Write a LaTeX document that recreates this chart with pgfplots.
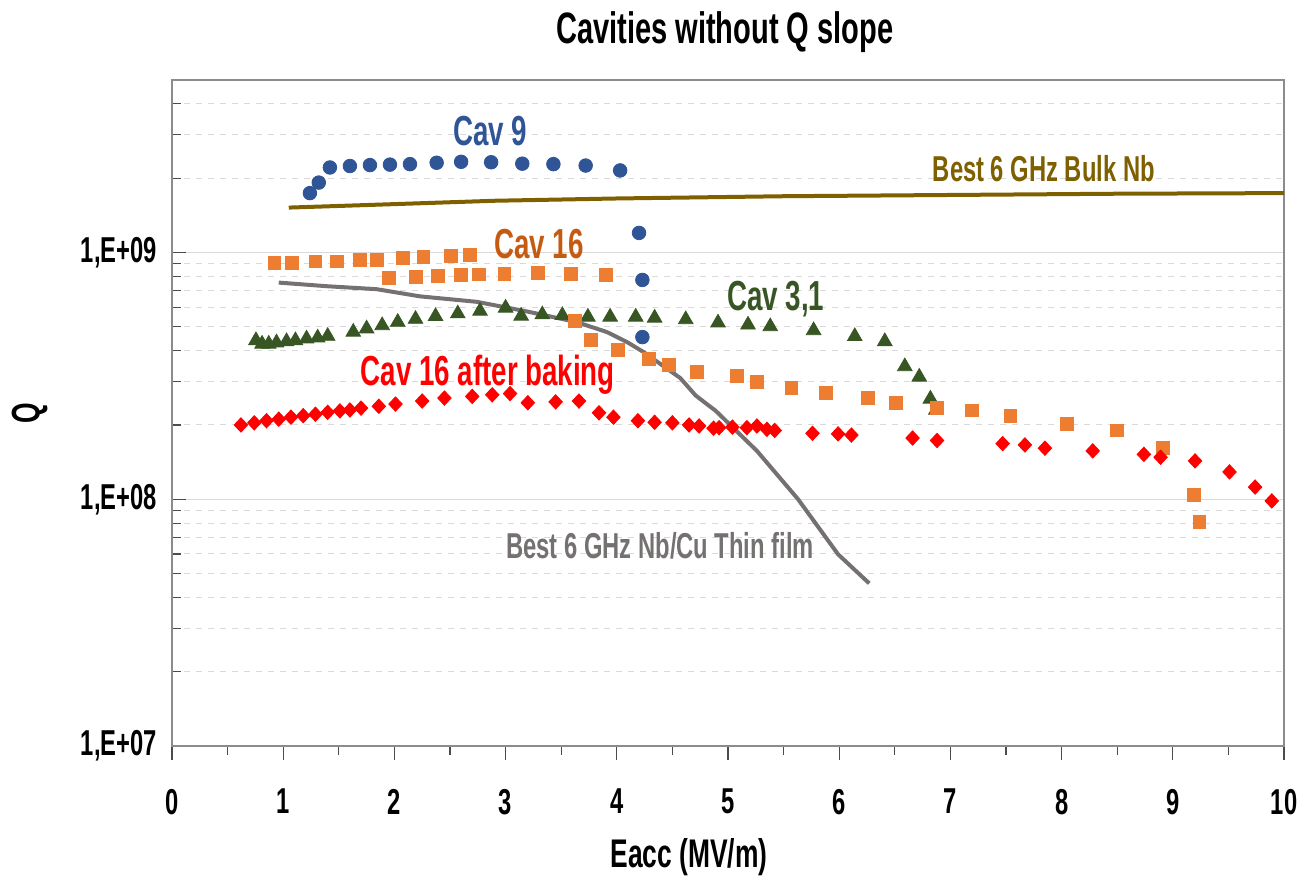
\documentclass[border=0pt]{standalone}
\usepackage{pgfplots}
\pgfplotsset{compat=1.18}
\usepackage{fontspec}
\setmainfont{Liberation Sans}[FakeStretch=0.66]
\definecolor{cblue}{HTML}{2F5597}
\definecolor{corange}{HTML}{ED7D31}
\definecolor{corangeT}{HTML}{C55A11}
\definecolor{cgreen}{HTML}{375623}
\definecolor{cred}{HTML}{FF0000}
\definecolor{cbrown}{HTML}{7F6000}
\definecolor{cgrey}{HTML}{767171}
\definecolor{gridc}{HTML}{D9D9D9}
\begin{document}
\begin{tikzpicture}
\begin{axis}[
  at={(0,0)}, anchor=south west,
  scale only axis, width=556pt, height=333pt,
  xmin=0, xmax=10, ymode=log, ymin=1e7, ymax=5e9,
  log basis y=10,
  xtick={0,1,...,10}, xticklabels={0,1,2,3,4,5,6,7,8,9,10},
  minor xtick={0.5,1.5,...,9.5},
  ytick={1e7,1e8,1e9}, yticklabels={{1,E+07},{1,E+08},{1,E+09}},
  minor ytick={2e7,3e7,4e7,5e7,6e7,7e7,8e7,9e7,2e8,3e8,4e8,5e8,6e8,7e8,8e8,9e8,2e9,3e9,4e9},
  xtick align=outside, xtick pos=bottom,
  ytick pos=left,
  major tick length=7pt, minor tick length=4.5pt,
  tick style={color=black!70, line width=0.6pt},
  ymajorgrids, yminorgrids,
  major grid style={color=gridc, line width=0.6pt},
  minor grid style={color=gridc, dashed, line width=0.5pt},
  axis line style={color=black!45, line width=0.8pt},
  ticklabel style={font=\fontsize{18}{18}\selectfont\bfseries},
  xticklabel style={yshift=-11pt},
  yticklabel style={xshift=-4pt},
  xlabel={Eacc (MV/m)},
  xlabel style={font=\fontsize{20}{20}\selectfont\bfseries, at={(axis description cs:0.465,-0.167)}, anchor=center},
  clip=false,
]
% Best thin film (grey line)
\addplot[color=cgrey, line width=2pt, no marks] coordinates {
(0.96,7.55e8) (1.39,7.30e8) (1.84,7.10e8) (2.23,6.64e8) (2.74,6.31e8) (3.19,5.77e8)
(3.64,5.22e8) (3.91,4.76e8) (4.09,4.34e8) (4.24,3.95e8) (4.57,3.10e8) (4.71,2.63e8)
(4.89,2.28e8) (5.26,1.57e8) (5.63,1.0e8) (5.99,5.98e7) (6.27,4.56e7)};
% Best bulk Nb (brown line)
\addplot[color=cbrown, line width=2pt, no marks] coordinates {
(1.05,1.52e9) (2,1.57e9) (2.9,1.62e9) (4,1.655e9) (5.5,1.69e9) (7,1.71e9) (8.5,1.73e9) (10,1.74e9)};
% Cav 3,1
\addplot[only marks, mark=triangle*, mark size=4.2pt, color=cgreen] coordinates {
(0.755,4.40e8) (0.81,4.26e8) (0.87,4.26e8) (0.94,4.31e8) (1.03,4.36e8) (1.11,4.40e8)
(1.21,4.47e8) (1.31,4.51e8) (1.40,4.58e8) (1.63,4.76e8) (1.75,4.91e8) (1.89,5.06e8)
(2.03,5.22e8) (2.19,5.37e8) (2.37,5.51e8) (2.57,5.65e8) (2.77,5.79e8) (3.00,5.96e8)
(3.14,5.53e8) (3.33,5.60e8) (3.51,5.56e8) (3.74,5.48e8) (3.94,5.48e8) (4.17,5.48e8)
(4.34,5.43e8) (4.62,5.35e8) (4.91,5.19e8) (5.18,5.09e8) (5.38,5.01e8) (5.77,4.83e8)
(6.14,4.57e8) (6.41,4.36e8) (6.59,3.45e8) (6.72,3.13e8) (6.82,2.55e8) (6.87,2.30e8)};
% Cav 9
\addplot[only marks, mark=*, mark size=3.4pt, color=cblue] coordinates {
(1.24,1.74e9) (1.32,1.92e9) (1.42,2.21e9) (1.60,2.24e9) (1.78,2.26e9) (1.96,2.27e9)
(2.14,2.28e9) (2.38,2.31e9) (2.60,2.33e9) (2.87,2.32e9) (3.15,2.29e9) (3.43,2.28e9)
(3.72,2.25e9) (4.03,2.15e9) (4.20,1.20e9) (4.23,7.74e8) (4.23,4.54e8)};
% Cav 16
\addplot[only marks, mark=square*, mark size=3.2pt, color=corange] coordinates {
(0.92,9.10e8) (1.08,9.06e8) (1.29,9.2e8) (1.48,9.2e8) (1.69,9.34e8) (1.84,9.36e8)
(2.08,9.51e8) (2.26,9.63e8) (2.51,9.7e8) (2.68,9.8e8)
(1.95,7.89e8) (2.19,7.97e8) (2.39,8.01e8) (2.60,8.09e8) (2.76,8.15e8) (2.99,8.19e8)
(3.29,8.29e8) (3.59,8.19e8) (3.90,8.09e8)
(3.62,5.27e8) (3.77,4.43e8) (4.01,4.02e8) (4.29,3.71e8) (4.47,3.51e8) (4.72,3.29e8)
(5.08,3.16e8) (5.26,2.98e8) (5.57,2.83e8) (5.88,2.70e8) (6.26,2.57e8) (6.51,2.46e8)
(6.88,2.34e8) (7.19,2.29e8) (7.54,2.18e8) (8.05,2.02e8) (8.50,1.90e8) (8.91,1.61e8)
(9.19,1.04e8) (9.24,8.09e7)};
% Cav 16 after baking
\addplot[only marks, mark=diamond*, mark size=3.6pt, mark options={xscale=1.25}, color=cred] coordinates {
(0.62,2.00e8) (0.74,2.04e8) (0.85,2.08e8) (0.96,2.11e8) (1.07,2.15e8) (1.18,2.18e8)
(1.29,2.21e8) (1.40,2.25e8) (1.51,2.28e8) (1.60,2.30e8) (1.70,2.34e8) (1.86,2.38e8)
(2.01,2.43e8) (2.25,2.50e8) (2.45,2.57e8) (2.70,2.61e8) (2.88,2.65e8) (3.04,2.68e8)
(3.20,2.46e8) (3.45,2.48e8) (3.66,2.50e8) (3.84,2.24e8) (3.97,2.15e8) (4.19,2.08e8)
(4.34,2.05e8) (4.50,2.04e8) (4.65,2.00e8) (4.74,1.98e8) (4.87,1.94e8) (4.92,1.95e8)
(5.04,1.96e8) (5.17,1.95e8) (5.26,1.98e8) (5.35,1.92e8) (5.42,1.90e8) (5.76,1.85e8)
(5.99,1.84e8) (6.11,1.82e8) (6.66,1.77e8) (6.88,1.73e8) (7.47,1.68e8) (7.67,1.66e8)
(7.85,1.61e8) (8.28,1.57e8) (8.74,1.52e8) (8.89,1.48e8) (9.20,1.43e8) (9.51,1.29e8)
(9.74,1.12e8) (9.89,9.84e7)};
% annotations
\node[font=\fontsize{22}{22}\selectfont\bfseries] at (axis description cs:0.497,1.072) {Cavities without Q slope};
\node[font=\fontsize{20}{20}\selectfont\bfseries, rotate=90] at (axis description cs:-0.128,0.5) {Q};
\node[font=\fontsize{21}{21}\selectfont\bfseries, text=cblue] at (axis cs:2.86,3.10e9) {Cav 9};
\node[font=\fontsize{18}{18}\selectfont\bfseries, text=cbrown] at (axis cs:7.84,2.19e9) {Best 6 GHz Bulk Nb};
\node[font=\fontsize{21}{21}\selectfont\bfseries, text=corangeT] at (axis cs:3.30,1.078e9) {Cav 16};
\node[font=\fontsize{21}{21}\selectfont\bfseries, text=cgreen] at (axis cs:5.43,6.50e8) {Cav 3,1};
\node[font=\fontsize{21}{21}\selectfont\bfseries, text=cred] at (axis cs:2.84,3.19e8) {Cav 16 after baking};
\node[font=\fontsize{18}{18}\selectfont\bfseries, text=cgrey] at (axis cs:4.39,6.50e7) {Best 6 GHz Nb/Cu Thin film};
\end{axis}
\pgfresetboundingbox
\path (-86pt,-67pt) rectangle (567pt,373pt);
\end{tikzpicture}
\end{document}
